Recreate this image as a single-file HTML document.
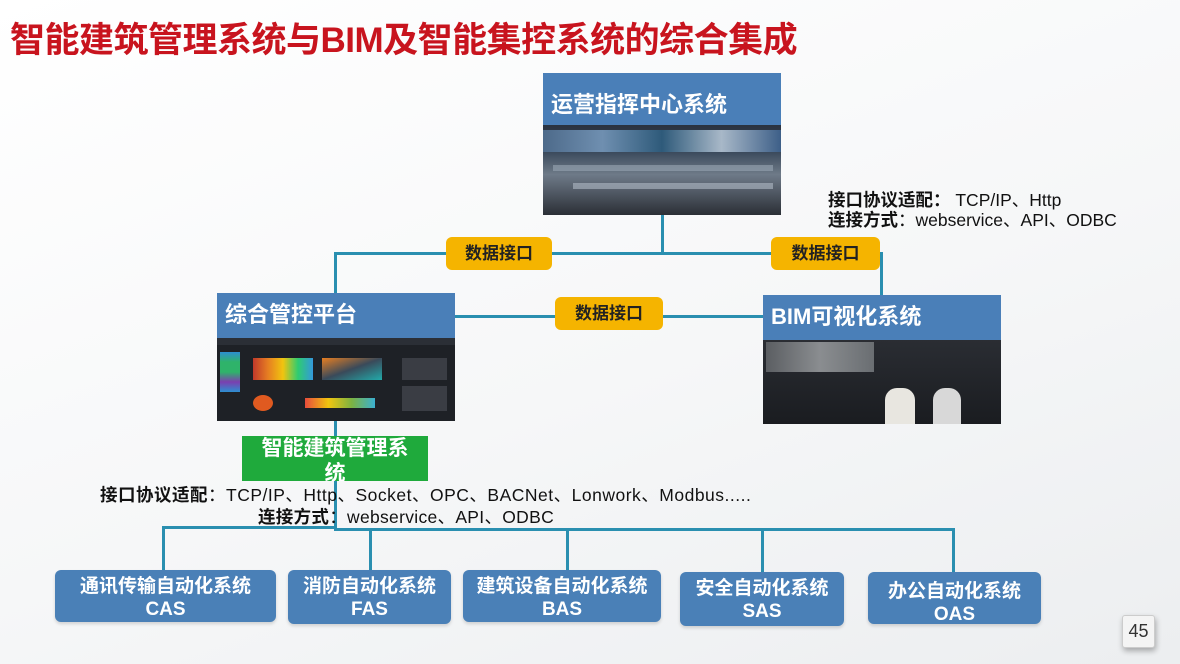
<!DOCTYPE html>
<html><head><meta charset="utf-8">
<style>
*{margin:0;padding:0;box-sizing:border-box}
body{width:1180px;height:664px;overflow:hidden;position:relative;background:linear-gradient(160deg,#ffffff 0%,#f6f7f8 55%,#eceef0 100%);font-family:"Liberation Sans","Noto Sans CJK SC",sans-serif}
.a{position:absolute}
.title{left:10px;top:12px;font-size:35px;font-weight:bold;color:#c8141e;letter-spacing:-0.5px;white-space:nowrap}
.hdr{background:#4a7fb8;color:#fff;font-weight:bold;font-size:22px;padding-left:8px}
.ln{position:absolute;background:#2a8fb0}
.badge{position:absolute;background:#f5b400;border-radius:6px;font-weight:bold;font-size:17px;color:#222;text-align:center}
.bx{position:absolute;background:#4a80b7;border-radius:6px;color:#fff;font-weight:bold;text-align:center;font-size:19px;line-height:23px;padding-top:5px;box-shadow:0 2px 3px rgba(0,0,0,.15)}
.txt{position:absolute;font-size:17.5px;color:#111;white-space:nowrap}
.txt b{font-weight:bold}
.img{position:absolute;background:#1b1d22}
</style></head><body>
<div class="a title">智能建筑管理系统与BIM及智能集控系统的综合集成</div>

<div class="ln" style="left:661px;top:215px;width:3px;height:40px"></div>
<div class="ln" style="left:334px;top:252px;width:549px;height:3px"></div>
<div class="ln" style="left:334px;top:252px;width:3px;height:42px"></div>
<div class="ln" style="left:880px;top:252px;width:3px;height:44px"></div>
<div class="ln" style="left:455px;top:315px;width:308px;height:3px"></div>
<div class="ln" style="left:334px;top:421px;width:3px;height:108px"></div>
<div class="ln" style="left:162px;top:526px;width:174px;height:3px"></div>
<div class="ln" style="left:334px;top:528px;width:621px;height:3px"></div>
<div class="ln" style="left:162px;top:526px;width:3px;height:45px"></div>
<div class="ln" style="left:369px;top:528px;width:3px;height:43px"></div>
<div class="ln" style="left:566px;top:528px;width:3px;height:43px"></div>
<div class="ln" style="left:761px;top:528px;width:3px;height:45px"></div>
<div class="ln" style="left:952px;top:528px;width:3px;height:45px"></div>

<div class="a hdr" style="left:543px;top:73px;width:238px;height:52px;line-height:64px">运营指挥中心系统</div>
<div class="img" style="left:543px;top:125px;width:238px;height:90px;background:linear-gradient(180deg,#2a3340 0%,#3b4a5c 30%,#6e7a88 55%,#2b2f36 100%)">
 <div class="a" style="left:0;top:5px;width:238px;height:22px;background:linear-gradient(90deg,#4d6a8a,#6f8fb0,#2e5a7a,#a8b8c8,#3d5f88)"></div>
 <div class="a" style="left:10px;top:40px;width:220px;height:6px;background:#9aa6b4;opacity:.6"></div>
 <div class="a" style="left:30px;top:58px;width:200px;height:6px;background:#b0bac6;opacity:.6"></div>
</div>

<div class="badge" style="left:446px;top:237px;width:106px;height:33px;line-height:33px">数据接口</div>
<div class="badge" style="left:771px;top:237px;width:109px;height:33px;line-height:33px">数据接口</div>
<div class="badge" style="left:555px;top:297px;width:108px;height:33px;line-height:33px">数据接口</div>

<div class="txt" style="left:828px;top:187px"><b>接口协议适配：</b> TCP/IP、Http</div>
<div class="txt" style="left:828px;top:207px"><b>连接方式</b>：webservice、API、ODBC</div>

<div class="a hdr" style="left:217px;top:293px;width:238px;height:45px;line-height:44px">综合管控平台</div>
<div class="img" style="left:217px;top:338px;width:238px;height:83px;background:#1e2126">
 <div class="a" style="left:0;top:0;width:238px;height:7px;background:#2b2f36"></div>
 <div class="a" style="left:3px;top:14px;width:20px;height:40px;background:linear-gradient(180deg,#2d8fd0,#2fb36a,#2fb36a,#7b3fb0,#2d8fd0)"></div>
 <div class="a" style="left:36px;top:20px;width:60px;height:22px;background:linear-gradient(90deg,#c0392b,#e67e22,#f1c40f,#2ecc71,#3498db)"></div>
 <div class="a" style="left:105px;top:20px;width:60px;height:22px;background:linear-gradient(160deg,#e67e22,#3a4a5a,#2aa)"></div>
 <div class="a" style="left:185px;top:20px;width:45px;height:22px;background:#3a3d44"></div>
 <div class="a" style="left:185px;top:48px;width:45px;height:25px;background:#3a3d44"></div>
 <div class="a" style="left:36px;top:57px;width:20px;height:16px;border-radius:50%;background:#e05a20"></div>
 <div class="a" style="left:88px;top:60px;width:70px;height:10px;background:linear-gradient(90deg,#e74c3c,#f1c40f,#7cb342,#3bb0d0)"></div>
</div>

<div class="a" style="left:242px;top:436px;width:186px;height:45px;background:#1faa3c;color:#fff;font-weight:bold;font-size:21px;line-height:25px;text-align:center;overflow:hidden">智能建筑管理系<br>统</div>

<div class="a hdr" style="left:763px;top:295px;width:238px;height:45px;line-height:44px">BIM可视化系统</div>
<div class="img" style="left:763px;top:340px;width:238px;height:84px;background:linear-gradient(180deg,#2a2d33,#1a1c20)">
 <div class="a" style="left:3px;top:2px;width:108px;height:30px;background:linear-gradient(90deg,#5b5e62,#8a8d90,#6a6e72)"></div>
 <div class="a" style="left:170px;top:48px;width:28px;height:36px;border-radius:12px 12px 0 0;background:#d8d8d8"></div>
 <div class="a" style="left:122px;top:48px;width:30px;height:36px;border-radius:12px 12px 0 0;background:#e8e6e0"></div>
</div>

<div class="txt" style="left:100px;top:482px;letter-spacing:0.5px"><b>接口协议适配</b>：TCP/IP、Http、Socket、OPC、BACNet、Lonwork、Modbus.....</div>
<div class="txt" style="left:258px;top:504px;letter-spacing:0.3px"><b>连接方式</b>：webservice、API、ODBC</div>

<div class="bx" style="left:55px;top:570px;width:221px;height:52px">通讯传输自动化系统<br>CAS</div>
<div class="bx" style="left:288px;top:570px;width:163px;height:54px">消防自动化系统<br>FAS</div>
<div class="bx" style="left:463px;top:570px;width:198px;height:52px">建筑设备自动化系统<br>BAS</div>
<div class="bx" style="left:680px;top:572px;width:164px;height:54px">安全自动化系统<br>SAS</div>
<div class="bx" style="left:868px;top:572px;width:173px;height:52px;padding-top:8px">办公自动化系统<br>OAS</div>

<div class="a" style="left:1122px;top:615px;width:33px;height:33px;background:#f4f4f4;border:1px solid #ccc;border-radius:3px;font-size:18px;color:#333;text-align:center;line-height:31px;box-shadow:1px 3px 6px rgba(0,0,0,.3)">45</div>
</body></html>
